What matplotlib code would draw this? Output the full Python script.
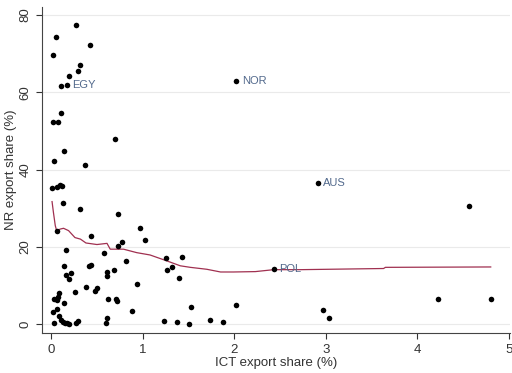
import matplotlib.pyplot as plt
import numpy as np

plt.rcParams['font.family'] = ['Liberation Sans', 'DejaVu Sans']

# ICT export share (%) vs NR export share (%)
ict = [0.27, 0.055, 0.425, 0.025, 0.31, 0.29, 0.20, 0.105, 0.17,
       0.11, 0.015, 0.07, 0.70, 0.135, 0.035, 0.375,
       0.01, 0.06, 0.10, 0.12, 0.125, 0.31, 0.735,
       0.06, 0.43, 0.965, 1.03, 0.77, 0.725, 0.575, 0.16, 0.82,
       0.135, 0.415, 0.43, 0.69, 0.215, 0.16, 0.615, 0.615, 0.20,
       0.935, 0.38, 0.26, 0.505, 0.48, 0.09, 0.07, 0.035, 0.06, 0.135,
       0.06, 0.025, 0.09, 0.105, 0.125, 0.15, 0.17, 0.20, 0.03, 0.27, 0.29,
       0.62, 0.71, 0.72, 0.88, 0.61, 0.60,
       1.23, 1.255, 1.43, 1.27, 1.32, 1.40, 1.53, 2.02, 1.37, 1.51, 1.73, 1.88,
       2.43, 2.91, 4.56, 2.97, 3.03, 4.22, 4.80, 2.02]
nr = [77.4, 74.3, 72.3, 69.7, 67.1, 65.5, 64.3, 61.7, 61.9,
      54.6, 52.3, 52.3, 47.9, 44.8, 42.1, 41.2,
      35.2, 35.5, 35.9, 35.7, 31.3, 29.8, 28.6,
      24.0, 22.9, 24.9, 21.8, 21.3, 20.3, 18.3, 19.2, 16.4,
      15.0, 15.0, 15.3, 14.1, 13.3, 12.7, 13.5, 12.5, 11.8,
      10.3, 9.7, 8.2, 9.4, 8.6, 8.0, 7.1, 6.6, 6.3, 5.4,
      4.0, 3.2, 2.1, 1.2, 0.5, 0.2, 0.2, 0.1, 0.2, 0.2, 0.8,
      6.5, 6.5, 5.9, 3.4, 1.5, 0.2,
      0.9, 17.0, 17.5, 14.0, 14.7, 11.9, 4.4, 4.9, 0.6, 0.1, 1.1, 0.6,
      14.2, 36.4, 30.6, 3.7, 1.6, 6.5, 6.5, 62.8]

labels = {'EGY': (0.17, 61.9), 'NOR': (2.02, 62.8), 'AUS': (2.91, 36.4), 'POL': (2.43, 14.2)}

# smoothed fit
fit_x = [0.01, 0.025, 0.045, 0.06, 0.10, 0.135, 0.19, 0.26, 0.32, 0.38, 0.50,
         0.61, 0.645, 0.79, 0.935, 1.08, 1.26, 1.41, 1.52, 1.70, 1.85, 1.99,
         2.23, 2.43, 2.72, 3.63, 3.65, 4.80]
fit_y = [31.7, 28.9, 25.5, 24.2, 24.6, 24.8, 24.2, 22.4, 22.0, 21.0, 20.6,
         20.9, 19.4, 19.4, 18.5, 17.9, 16.4, 15.1, 14.7, 14.2, 13.5, 13.5,
         13.6, 14.1, 14.1, 14.4, 14.7, 14.8]

fig = plt.figure(figsize=(5.12, 3.73), dpi=100)
ax = fig.add_axes([0.082, 0.107, 0.914, 0.874])

ax.scatter(ict, nr, s=16, color='black', zorder=3, linewidths=0)
ax.plot(fit_x, fit_y, color='#a03050', linewidth=0.9, zorder=2)
for name, (x, y) in labels.items():
    ax.text(x + 0.06, y, name, color='#52698c', fontsize=8, va='center', zorder=4)

ax.set_xlim(-0.1, 5.01)
ax.set_ylim(-2.3, 82)
ax.set_xticks([0, 1, 2, 3, 4, 5])
ax.set_yticks([0, 20, 40, 60, 80])
for t in ax.get_yticklabels():
    t.set_rotation(90)
    t.set_va('center')
ax.grid(axis='y', color='#eaeaea', linewidth=0.8)
ax.set_axisbelow(True)
ax.spines['top'].set_visible(False)
ax.spines['right'].set_visible(False)
ax.spines['left'].set_color('#444444')
ax.spines['bottom'].set_color('#444444')
ax.tick_params(labelsize=9.5, colors='#333333', length=4)
ax.set_xlabel('ICT export share (%)', fontsize=9.5, color='#333333', labelpad=1)
ax.set_ylabel('NR export share (%)', fontsize=9.5, color='#333333', labelpad=2)

fig.savefig('out.png', dpi=100)
